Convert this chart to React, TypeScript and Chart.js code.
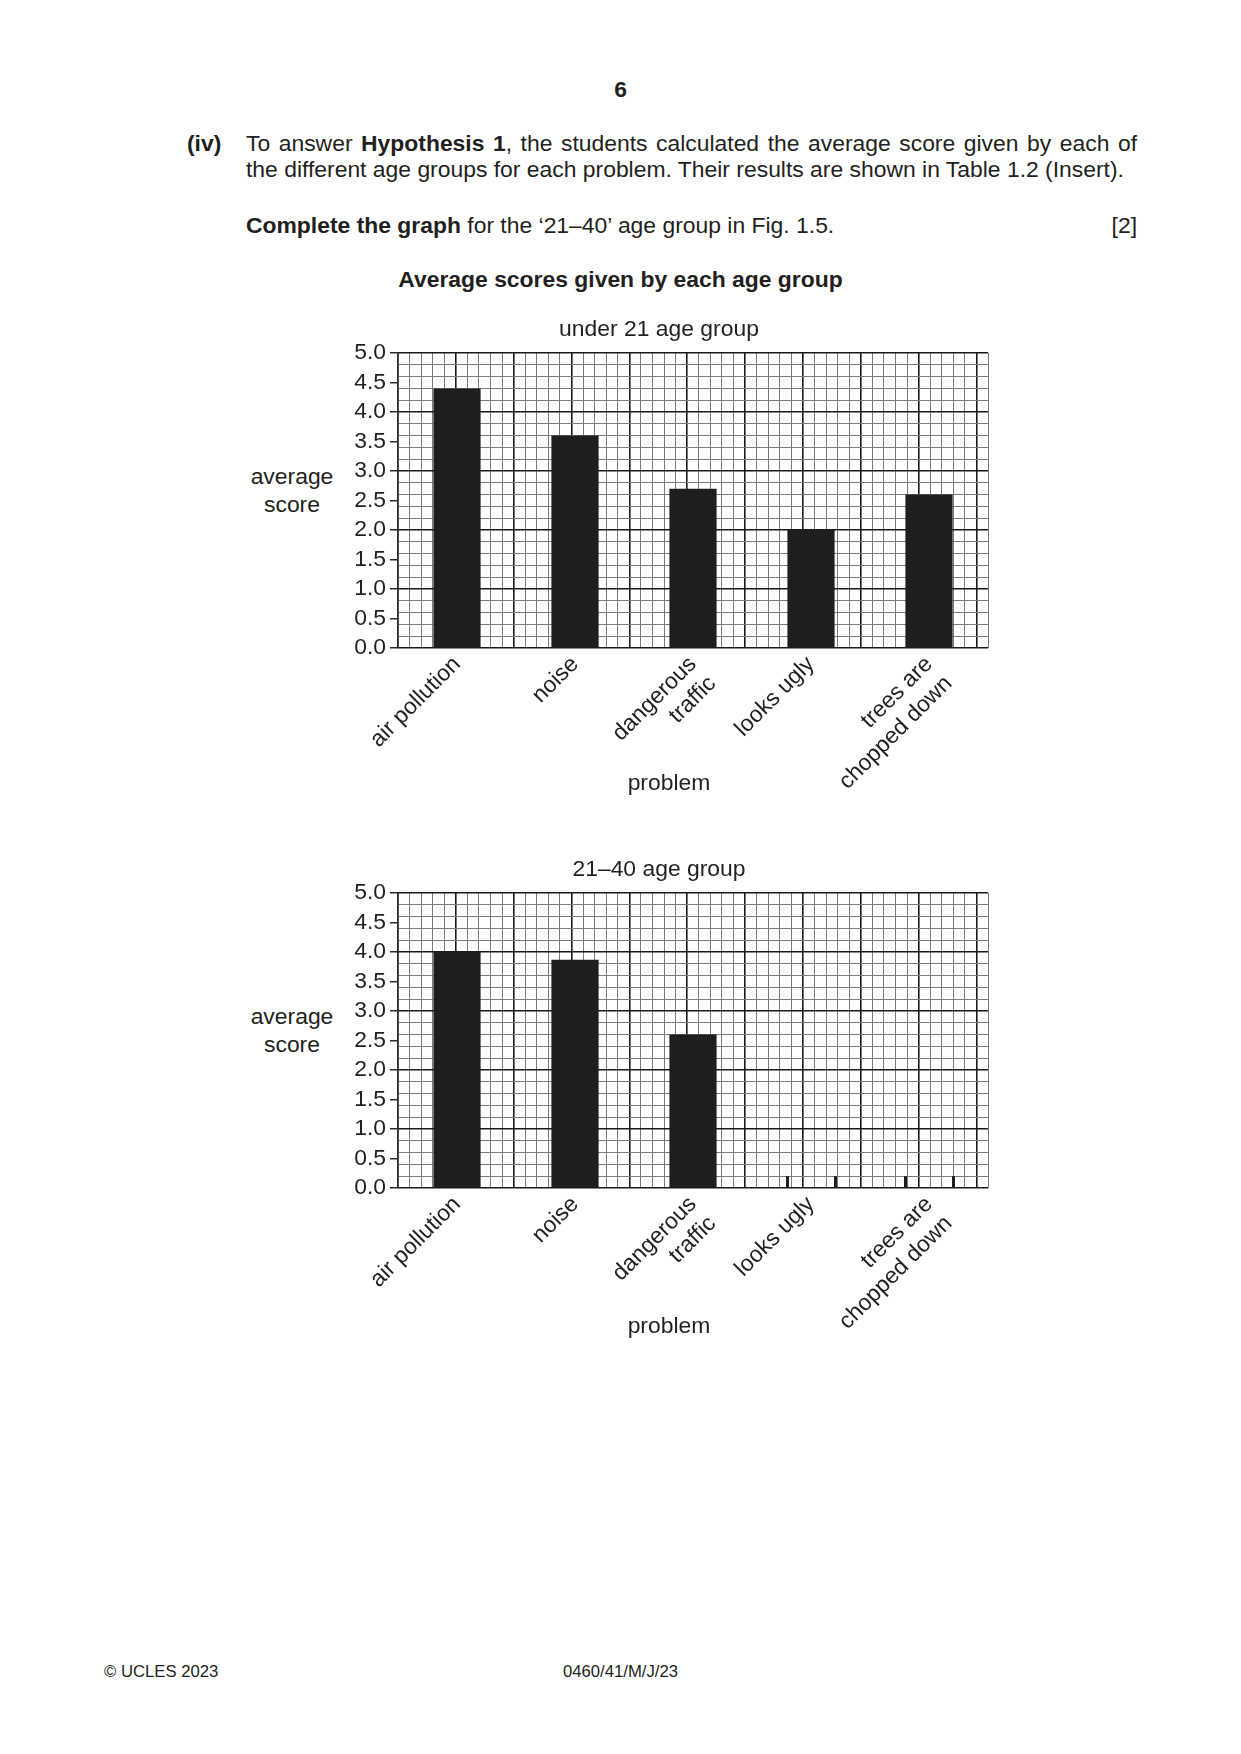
import React, { useEffect, useRef } from "react";
import { Chart, registerables } from "chart.js";

Chart.register(...registerables);

// ---------- data ----------
const problems: (string | string[])[] = [
  "air pollution",
  "noise",
  ["dangerous", "traffic"],
  "looks ugly",
  ["trees are", "chopped down"],
];
const under21Scores: (number | null)[] = [4.4, 3.6, 2.7, 2.0, 2.6];
const age21to40Scores: (number | null)[] = [4.0, 3.87, 2.6, null, null];
// small edge marks left for students to complete the bars
const age21to40Markers: (number | null)[] = [null, null, null, 0.2, 0.2];
const under21Markers: (number | null)[] = [null, null, null, null, null];

const Y_MIN = 0;
const Y_MAX = 5;
const Y_LABEL_STEP = 0.5;
const Y_GRID_STEP = 0.2;
const X_GRID_STEP = 0.1;

// ---------- style ----------
const FONT = '"Liberation Sans", Arial, Helvetica, sans-serif';
const FS = 22.9;
const TEXT = "#231f20";
const BAR = "#1e1e1e";
const AXIS = "#2a2a2a";
const MAJOR = "#1a1a1a";
const MINOR = "#7a7a7a";
const BAR_PERCENT = 0.4;

const isMultiple = (v: number, step: number) =>
  Math.abs(v / step - Math.round(v / step)) < 1e-6;

const markerPlugin = (heights: (number | null)[]) => ({
  id: "edgeMarkers",
  afterDatasetsDraw(chart: any) {
    const xs = chart.scales.x;
    const ys = chart.scales.y;
    const ctx = chart.ctx;
    const w = (xs.getPixelForValue(1) - xs.getPixelForValue(0)) * BAR_PERCENT;
    heights.forEach((h, i) => {
      if (h == null) return;
      const cx = xs.getPixelForValue(i);
      const y0 = ys.getPixelForValue(0);
      const y1 = ys.getPixelForValue(h);
      ctx.save();
      ctx.strokeStyle = BAR;
      ctx.lineWidth = 3;
      [cx - w / 2, cx + w / 2].forEach((px) => {
        const ax = Math.round(px) + 0.5;
        ctx.beginPath();
        ctx.moveTo(ax, y0);
        ctx.lineTo(ax, y1);
        ctx.stroke();
      });
      ctx.restore();
    });
  },
});

function makeConfig(title: string, scores: (number | null)[], markers: (number | null)[]): any {
  const font = { family: FONT, size: FS, weight: "normal" as const };
  return {
    type: "bar",
    data: {
      labels: problems,
      datasets: [
        {
          data: scores,
          backgroundColor: BAR,
          borderWidth: 0,
          barPercentage: BAR_PERCENT,
          categoryPercentage: 1,
          xAxisID: "x",
          yAxisID: "y",
        },
      ],
    },
    options: {
      responsive: false,
      animation: false,
      events: [],
      layout: { padding: { left: 0, right: 2, top: 0, bottom: 0 } },
      plugins: {
        legend: { display: false },
        tooltip: { enabled: false },
        title: {
          display: true,
          text: title,
          color: TEXT,
          font: { ...font, lineHeight: 1 },
          padding: { top: 18.5, bottom: 11.6 },
        },
      },
      scales: {
        x: {
          type: "category",
          position: "bottom",
          offset: true,
          grid: { display: false, drawTicks: false },
          border: { display: false },
          ticks: {
            color: TEXT,
            font,
            minRotation: 45,
            maxRotation: 45,
            autoSkip: false,
            padding: 3,
          },
          afterFit: (s: any) => {
            s.height = 150;
          },
        },
        xGrid: {
          type: "linear",
          position: "top",
          min: 0,
          max: problems.length,
          ticks: { display: false, stepSize: X_GRID_STEP, autoSkip: false },
          grid: {
            drawTicks: false,
            color: (c: any) => (c.tick && isMultiple(c.tick.value, 0.5) ? MAJOR : MINOR),
            lineWidth: (c: any) => (c.tick && isMultiple(c.tick.value, 0.5) ? 1.6 : 1),
          },
          border: { display: false },
        },
        y: {
          type: "linear",
          position: "left",
          min: Y_MIN,
          max: Y_MAX,
          ticks: {
            stepSize: Y_LABEL_STEP,
            color: TEXT,
            font,
            padding: 4,
            autoSkip: false,
            callback: (v: number) => Number(v).toFixed(1),
          },
          grid: {
            drawOnChartArea: false,
            drawTicks: true,
            tickLength: 8,
            color: AXIS,
            lineWidth: 1.5,
          },
          border: { display: true, color: AXIS, width: 1.5 },
          afterFit: (s: any) => {
            s.width = 68;
          },
        },
        yGrid: {
          type: "linear",
          position: "right",
          min: Y_MIN,
          max: Y_MAX,
          ticks: { display: false, stepSize: Y_GRID_STEP, autoSkip: false },
          grid: {
            drawTicks: false,
            color: (c: any) => (c.tick && isMultiple(c.tick.value, 1) ? MAJOR : MINOR),
            lineWidth: (c: any) => (c.tick && isMultiple(c.tick.value, 1) ? 1.6 : 1),
          },
          border: { display: false },
        },
      },
    },
    plugins: [markerPlugin(markers)],
  };
}

function ScoreChart(props: {
  title: string;
  scores: (number | null)[];
  markers: (number | null)[];
  top: number;
}) {
  const ref = useRef<HTMLCanvasElement>(null);
  useEffect(() => {
    const chart = new Chart(ref.current as HTMLCanvasElement, makeConfig(props.title, props.scores, props.markers));
    return () => chart.destroy();
  }, []);
  return (
    <canvas
      ref={ref}
      width={660}
      height={498}
      style={{ position: "absolute", left: 330, top: props.top, width: 660, height: 498 }}
    />
  );
}

const base: React.CSSProperties = {
  position: "absolute",
  fontFamily: FONT,
  fontSize: FS,
  color: TEXT,
  lineHeight: "26px",
  whiteSpace: "nowrap",
};

function YLabel({ top }: { top: number }) {
  return (
    <div style={{ ...base, left: 222, top, width: 140, textAlign: "center", lineHeight: "28px" }}>
      average
      <br />
      score
    </div>
  );
}

function XLabel({ top }: { top: number }) {
  return <div style={{ ...base, left: 569, top, width: 200, textAlign: "center" }}>problem</div>;
}

export default function App() {
  return (
    <div style={{ position: "absolute", left: 0, top: 0, width: 1241, height: 1754, background: "#fff" }}>
      <div style={{ ...base, left: 0, width: 1241, top: 76, textAlign: "center", fontWeight: "bold" }}>6</div>
      <div style={{ ...base, left: 187, top: 130, fontWeight: "bold" }}>(iv)</div>
      <div
        style={{
          ...base,
          left: 246,
          top: 130,
          width: 891,
          whiteSpace: "normal",
          textAlign: "justify",
          textAlignLast: "justify",
        }}
      >
        To answer <b>Hypothesis 1</b>, the students calculated the average score given by each of
      </div>
      <div style={{ ...base, left: 246, top: 156 }}>
        the different age groups for each problem. Their results are shown in Table 1.2 (Insert).
      </div>
      <div style={{ ...base, left: 246, top: 212 }}>
        <b>Complete the graph</b> for the ‘21–40’ age group in Fig. 1.5.
      </div>
      <div style={{ ...base, left: 1000, width: 137, top: 212, textAlign: "right" }}>[2]</div>
      <div style={{ ...base, left: 0, width: 1241, top: 265.5, textAlign: "center", fontWeight: "bold" }}>
        Average scores given by each age group
      </div>

      <YLabel top={461.5} />
      <ScoreChart title="under 21 age group" scores={under21Scores} markers={under21Markers} top={300} />
      <XLabel top={769} />

      <YLabel top={1002} />
      <ScoreChart title="21–40 age group" scores={age21to40Scores} markers={age21to40Markers} top={840} />
      <XLabel top={1312} />

      <div style={{ ...base, left: 104, top: 1662, fontSize: 16.7, lineHeight: "20px" }}>© UCLES 2023</div>
      <div style={{ ...base, left: 0, width: 1241, top: 1662, fontSize: 16.7, lineHeight: "20px", textAlign: "center" }}>
        0460/41/M/J/23
      </div>
    </div>
  );
}
